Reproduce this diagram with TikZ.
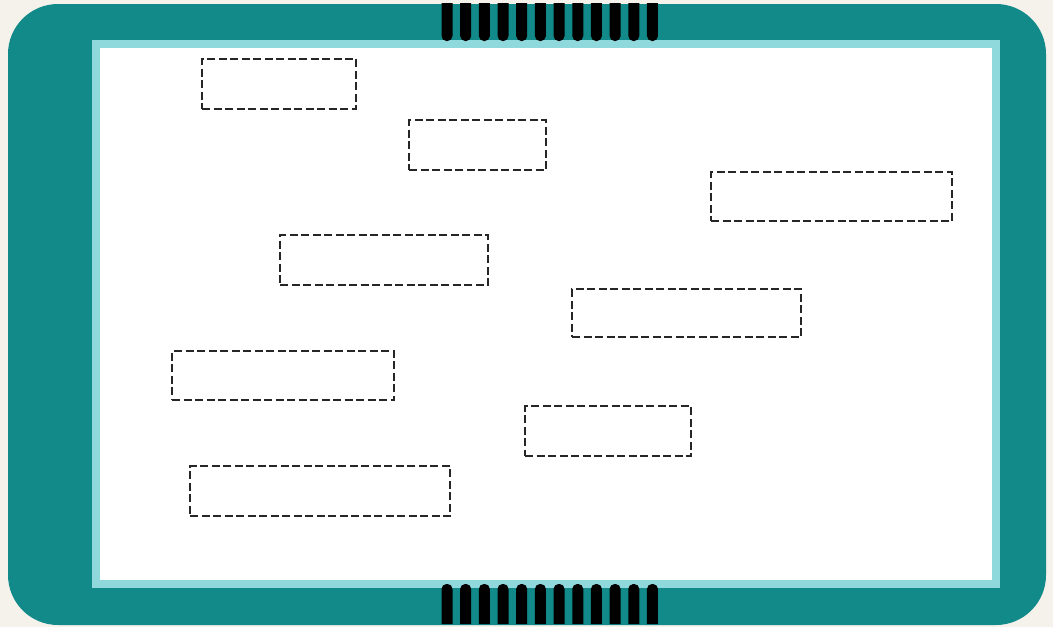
\documentclass[tikz,border=0pt]{standalone}
\usepackage{tikz}
\usetikzlibrary{calc}
\usepackage{xcolor}
\definecolor{tealbody}{HTML}{128A8A}
\definecolor{cyanrim}{HTML}{8FD9DD}
\definecolor{paper}{HTML}{F5F2EC}
\tikzset{
  slot/.style = {draw=black!85, line width=2pt, dash pattern=on 8pt off 3.5pt,
                 fill=white, inner sep=0pt},
  pin/.style  = {fill=black}
}
\begin{document}
\begin{tikzpicture}[x=1pt, y=-1pt]
            \fill[paper] (0,0) rectangle (1053,627);
            \useasboundingbox (0,0) rectangle (1053,627);
            \fill[tealbody, rounded corners=50pt] (8,4) rectangle (1046,625);
            \fill[cyanrim] (92,40) rectangle (1000,588);
            \fill[white] (100,48) rectangle (992,580);
            \foreach \i in {0,...,11} {
                \pgfmathsetmacro{\cx}{447+18.68*\i}
                \fill[pin] (\cx-5.5,3) -- (\cx+5.5,3) {[rounded corners=5pt] -- (\cx+5.5,41) -- (\cx-5.5,41)} -- cycle;
                \fill[pin] (\cx-5.5,624) -- (\cx+5.5,624) {[rounded corners=5pt] -- (\cx+5.5,584) -- (\cx-5.5,584)} -- cycle;
            }
            \node[slot, minimum width=154pt, minimum height=50pt] (slotA) at (279,83.5) {};
            \node[slot, minimum width=137pt, minimum height=50pt] (slotB) at (477.5,145) {};
            \node[slot, minimum width=241pt, minimum height=49pt] (slotC) at (831.5,196.5) {};
            \node[slot, minimum width=208pt, minimum height=50pt] (slotD) at (384,260) {};
            \node[slot, minimum width=229pt, minimum height=48pt] (slotE) at (686.5,313) {};
            \node[slot, minimum width=222pt, minimum height=49pt] (slotF) at (283,375.5) {};
            \node[slot, minimum width=166pt, minimum height=50pt] (slotG) at (608,431) {};
            \node[slot, minimum width=260pt, minimum height=50pt] (slotH) at (320,491) {};
        \end{tikzpicture}
\end{document}
